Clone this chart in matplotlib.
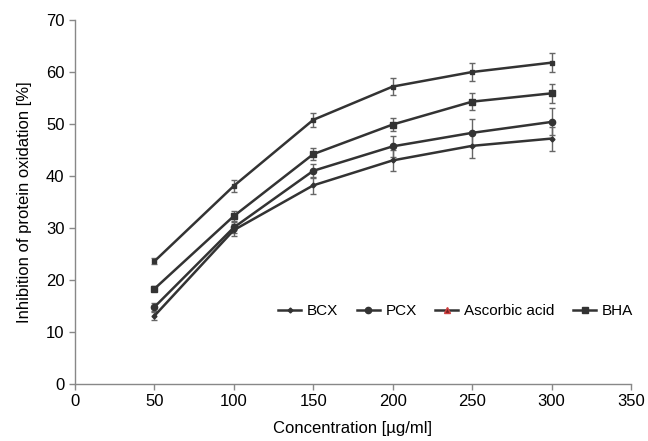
import matplotlib
matplotlib.use("Agg")
import matplotlib.pyplot as plt
from matplotlib.lines import Line2D

plt.rcParams['font.family'] = ['Liberation Sans', 'DejaVu Sans']

# Data
conc = [50, 100, 150, 200, 250, 300]
bcx = [13.1, 29.6, 38.2, 43.0, 45.8, 47.2]
bcx_err = [0.8, 1.2, 1.6, 2.0, 2.4, 2.3]
pcx = [14.8, 30.1, 41.0, 45.7, 48.3, 50.4]
pcx_err = [0.8, 1.0, 1.3, 2.0, 2.6, 2.6]
ascorbic = [23.6, 38.1, 50.8, 57.2, 60.0, 61.8]
ascorbic_err = [0.6, 1.1, 1.4, 1.7, 1.8, 1.8]
bha = [18.3, 32.3, 44.2, 49.9, 54.3, 55.9]
bha_err = [0.5, 1.0, 1.2, 1.25, 1.6, 1.8]

line_c = '#333333'
fig = plt.figure(figsize=(6.48, 4.41), dpi=100)
ax = fig.add_axes([0.1157, 0.1293, 0.858, 0.8253])

series = [
    (bcx, bcx_err, 'D', 2.5),
    (pcx, pcx_err, 'o', 4.5),
    (ascorbic, ascorbic_err, 's', 3.5),
    (bha, bha_err, 's', 4.5),
]
for vals, err, mk, ms in series:
    ax.errorbar(conc, vals, yerr=err, color=line_c, lw=1.8, marker=mk, ms=ms,
                ecolor='#666666', elinewidth=1.0, capsize=2.5, capthick=1.0)

ax.set_xlim(0, 350)
ax.set_ylim(0, 70)
ax.set_xticks(range(0, 351, 50))
ax.set_yticks(range(0, 71, 10))
for s in ['top', 'right']:
    ax.spines[s].set_visible(False)
for s in ['left', 'bottom']:
    ax.spines[s].set_color('#888888')
    ax.spines[s].set_linewidth(1.0)
ax.tick_params(colors='#888888', labelcolor='black', labelsize=12, length=4, width=1)
ax.set_xlabel('Concentration [\u00b5g/ml]', fontsize=12, labelpad=8)
ax.set_ylabel('Inhibition of protein oxidation [%]', fontsize=12, labelpad=10)

handles = [
    Line2D([], [], color=line_c, lw=1.8, marker='D', ms=2.5),
    Line2D([], [], color=line_c, lw=1.8, marker='o', ms=4.5),
    Line2D([], [], color=line_c, lw=1.8, marker='^', ms=5,
           markerfacecolor='#7a2020', markeredgecolor='#d04040'),
    Line2D([], [], color=line_c, lw=1.8, marker='s', ms=4.5),
]
labels = ['BCX', 'PCX', 'Ascorbic acid', 'BHA']
ax.legend(handles, labels, loc='center', bbox_to_anchor=(0.685, 0.20), ncol=4,
          frameon=False, fontsize=11, handlelength=1.5, handletextpad=0.4,
          columnspacing=1.2)

plt.savefig('out.png', dpi=100)
